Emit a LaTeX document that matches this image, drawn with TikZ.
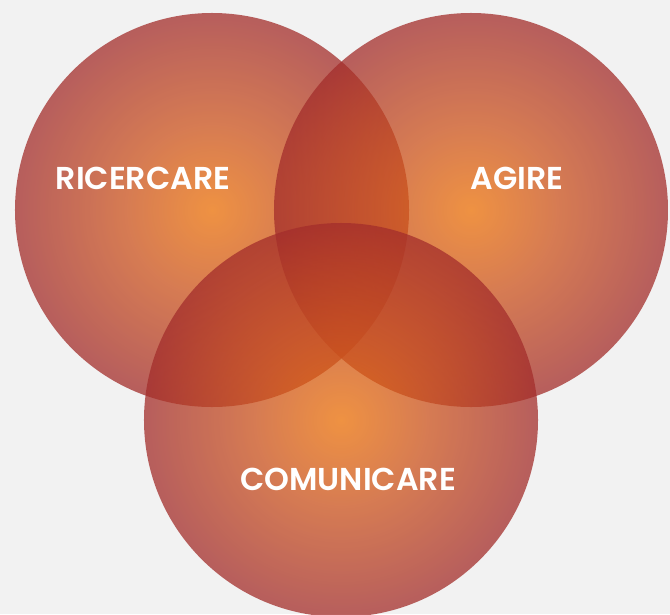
\documentclass[tikz,border=0pt]{standalone}
\usepackage{fontspec}
\setmainfont{Poppins}[BoldFont={Poppins SemiBold}]
\usepackage{xcolor}
\usepackage{tikz}
\usetikzlibrary{positioning}

\definecolor{bgpaper}{RGB}{242,242,242}
\definecolor{vcore}{RGB}{238,114,8}
\definecolor{vmid}{RGB}{205,84,30}
\definecolor{vedge}{RGB}{163,45,43}
\pgfdeclareradialshading{vennglow}{\pgfpointorigin}{color(0bp)=(vcore); color(11bp)=(vmid); color(25bp)=(vedge); color(50bp)=(vedge)}

\begin{document}
\begin{tikzpicture}[x=0.03cm, y=-0.03cm,
  v/.style={circle, draw=none, inner sep=0pt, minimum size=11.82cm, shading=vennglow, fill opacity=0.75},
  t/.style={text=white, font=\fontsize{27}{31}\selectfont\bfseries, inner sep=0pt}
]
\fill[bgpaper] (0,0) rectangle (670,614);
\useasboundingbox (0,0) rectangle (670,614);

\node[v] (ric) at (212,210) {};
\node[v] (agi) at (471,210) {};
\node[v] (com) at (341,420) {};

\node[t] (lric) at (143,178) {RICERCARE};
\node[t] (lagi) at (517,178) {AGIRE};
\node[t] (lcom) at (348,479) {COMUNICARE};
\end{tikzpicture}
\end{document}
